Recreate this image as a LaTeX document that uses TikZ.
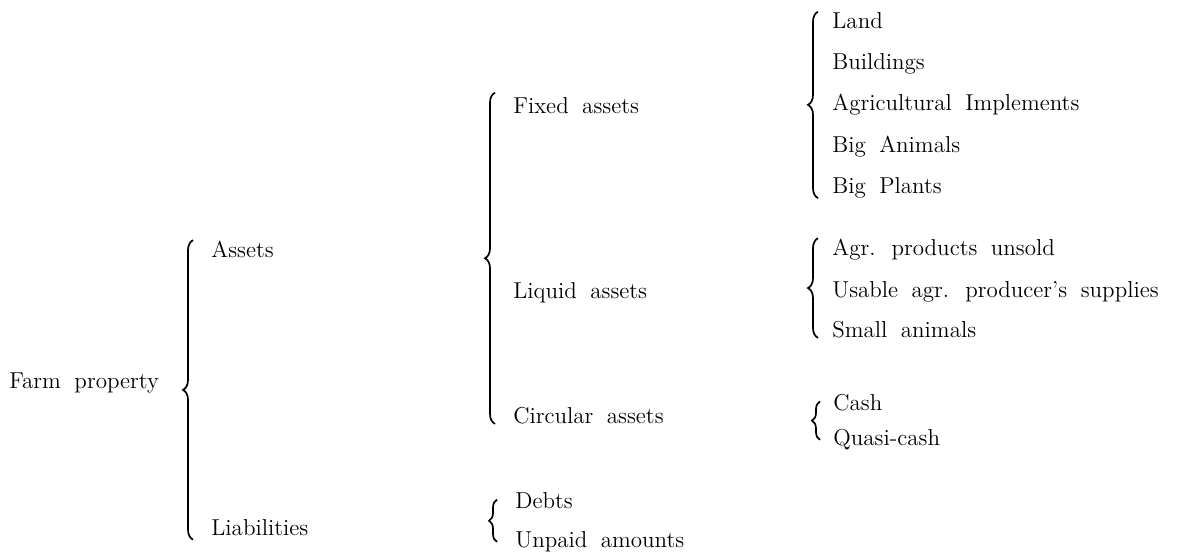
\documentclass[tikz,border=0pt]{standalone}
\usepackage{fontspec}
\setmainfont{Latin Modern Roman}[WordSpace=1.8]
\usetikzlibrary{decorations.pathreplacing}

\tikzset{
  entry/.style={anchor=base west, inner sep=0pt, font=\fontsize{11.5}{14}\selectfont},
  bigbrace/.style={decorate, decoration={brace, amplitude=5pt}, line width=0.85pt},
  smallbrace/.style={decorate, decoration={brace, amplitude=4pt}, line width=0.85pt}
}

\begin{document}
\begin{tikzpicture}[x=0.5pt,y=-0.5pt]
\useasboundingbox (0,0) rectangle (1184,552);

% Level 0 and 1
\node[entry] (farm) at (9,388) {Farm property};
\node[entry] (assets) at (211,257) {Assets};
\node[entry] (liab) at (211,535) {Liabilities};

% Level 2
\node[entry] (fixed) at (513,113) {Fixed assets};
\node[entry] (liquid) at (513,298) {Liquid assets};
\node[entry] (circ) at (513,423) {Circular assets};
\node[entry] (debts) at (515,508) {Debts};
\node[entry] (unpaid) at (515,547) {Unpaid amounts};

% Level 3
\node[entry] (land) at (832,28) {Land};
\node[entry] (build) at (832,69) {Buildings};
\node[entry] (impl) at (832,110) {Agricultural Implements};
\node[entry] (animals) at (832,152) {Big Animals};
\node[entry] (plants) at (832,193) {Big Plants};
\node[entry] (unsold) at (832,255) {Agr. products unsold};
\node[entry] (supplies) at (832,297) {Usable agr. producer's supplies};
\node[entry] (small) at (832,337) {Small animals};
\node[entry] (cash) at (833,410) {Cash};
\node[entry] (quasi) at (833,445) {Quasi-cash};

% Braces
\draw[bigbrace] ([xshift=-9pt,yshift=-2pt]liab.south west) -- ([xshift=-9pt]assets.north west);
\draw[bigbrace] ([xshift=-9pt]circ.south west) -- ([xshift=-9pt,yshift=2pt]fixed.north west);
\draw[bigbrace] ([xshift=-7pt]plants.south west) -- ([xshift=-7pt]land.north west);
\draw[bigbrace] ([xshift=-7pt]small.south west) -- ([xshift=-7pt]unsold.north west);
\draw[smallbrace] ([xshift=-6.5pt,yshift=5pt]quasi.south west) -- ([xshift=-6.5pt,yshift=-4pt]cash.north west);
\draw[smallbrace] ([xshift=-9pt,yshift=5pt]unpaid.south west) -- ([xshift=-9pt,yshift=-4pt]debts.north west);
\end{tikzpicture}
\end{document}
